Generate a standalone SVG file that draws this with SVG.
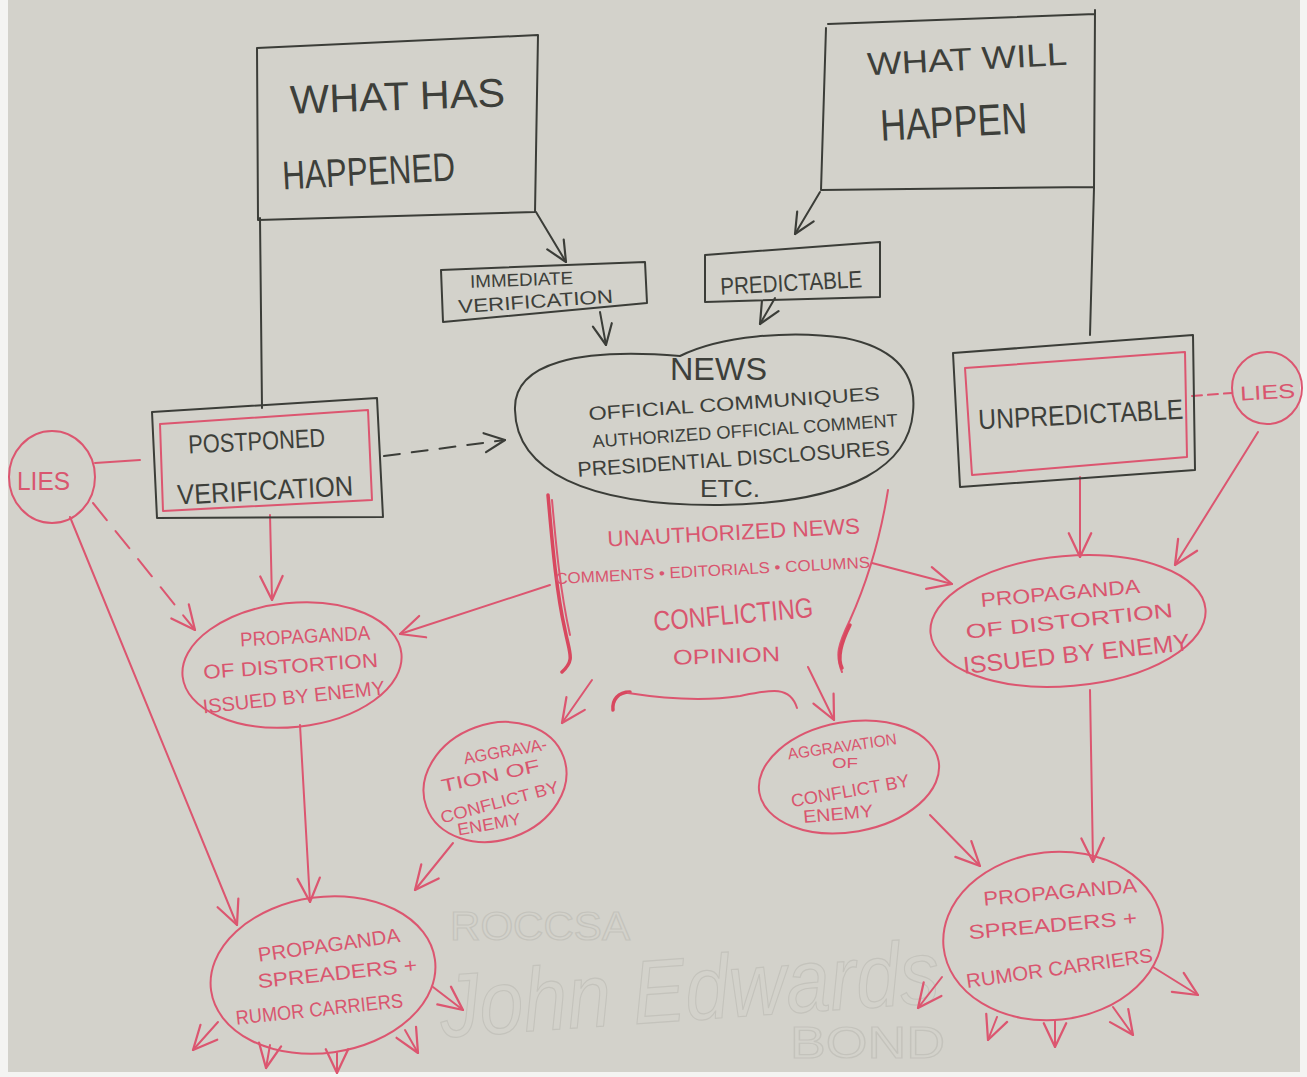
<svg xmlns="http://www.w3.org/2000/svg" width="1307" height="1077" viewBox="0 0 1307 1077">
<defs>
<marker id="ah-k" viewBox="0 0 20 20" refX="19" refY="10" markerWidth="24" markerHeight="24" markerUnits="userSpaceOnUse" orient="auto"><path d="M2,2 L19,10 L2,18" fill="none" stroke="#3b3d38" stroke-width="1.8" stroke-linecap="round" stroke-linejoin="round"/></marker>
<marker id="ah-r" viewBox="0 0 20 20" refX="19" refY="10" markerWidth="28" markerHeight="28" markerUnits="userSpaceOnUse" orient="auto"><path d="M2,2 L19,10 L2,18" fill="none" stroke="#dc5670" stroke-width="1.6" stroke-linecap="round" stroke-linejoin="round"/></marker>
</defs>
<style>
.k{fill:none;stroke:#3b3d38;stroke-width:2;stroke-linecap:round;stroke-linejoin:round}
.r{fill:none;stroke:#dc5670;stroke-width:2;stroke-linecap:round;stroke-linejoin:round}
.rt{fill:none;stroke:#d8485f;stroke-width:3.5;stroke-linecap:round;stroke-linejoin:round}
.tk{font-family:"Liberation Sans","DejaVu Sans",sans-serif;fill:#3d3f3a}
.tr{font-family:"Liberation Sans","DejaVu Sans",sans-serif;fill:#d9566f}
.wm{font-family:"Liberation Sans",sans-serif;fill:none;stroke:#c4c3bc;stroke-width:1.2}
.ak{marker-end:url(#ah-k)}
.ar{marker-end:url(#ah-r)}
</style>
<rect x="0" y="0" width="1307" height="1077" fill="#f4f4f2"/>
<rect x="8" y="0" width="1292" height="1072" fill="#d3d2cb"/>

<g id="watermark">
<text class="wm" x="450" y="940" font-size="40" textLength="180" lengthAdjust="spacingAndGlyphs">ROCCSA</text>
<text class="wm" x="440" y="1020" font-size="90" font-family="'DejaVu Serif',serif" font-style="italic" textLength="500" lengthAdjust="spacingAndGlyphs" transform="rotate(-4 690 1000)">John Edwards</text>
<text class="wm" x="790" y="1058" font-size="44" textLength="155" lengthAdjust="spacingAndGlyphs">BOND</text>
</g>

<g id="connectors">
<path class="k" d="M260,218 L262,408"/>
<path class="k" d="M1094,188 L1090,335"/>
<path class="k ak" d="M536,212 L566,262"/>
<path class="k ak" d="M600,312 L606,345"/>
<path class="k ak" d="M820,192 L795,234"/>
<path class="k ak" d="M775,298 L760,324"/>
<path class="k ak" d="M384,456 L505,440" stroke-dasharray="16 12"/>
<path class="r" d="M95,463 L140,460"/>
<path class="r" d="M1192,396 L1232,393" stroke-dasharray="10 6"/>
<path class="r ar" d="M70,517 L237,925"/>
<path class="r ar" d="M93,503 L195,630" stroke-dasharray="22 14"/>
<path class="r ar" d="M1258,432 L1175,565"/>
<path class="r ar" d="M270,515 L272,600"/>
<path class="r ar" d="M550,585 L400,634"/>
<path class="r ar" d="M872,563 L952,584"/>
<path class="r ar" d="M1080,477 L1080,557"/>
<path class="r ar" d="M592,680 L562,723"/>
<path class="r ar" d="M808,667 L834,720"/>
<path class="r ar" d="M300,725 L310,902"/>
<path class="r ar" d="M453,843 L415,890"/>
<path class="r ar" d="M1090,690 L1093,862"/>
<path class="r ar" d="M930,815 L980,866"/>
<path class="r ar" d="M218,1022 L193,1050"/>
<path class="r ar" d="M270,1045 L266,1068"/>
<path class="r ar" d="M337,1053 L337,1073"/>
<path class="r ar" d="M405,1030 L418,1053"/>
<path class="r ar" d="M433,987 L463,1010"/>
<path class="r ar" d="M942,977 L918,1008"/>
<path class="r ar" d="M997,1017 L988,1040"/>
<path class="r ar" d="M1055,1020 L1055,1047"/>
<path class="r ar" d="M1113,1007 L1133,1035"/>
<path class="r ar" d="M1153,967 L1198,995"/>
</g>

<g id="what-has-happened">
<path class="k" d="M257,48 L538,35 L535,212 L258,220 Z"/>
<text class="tk" x="290" y="110" font-size="40" textLength="215" lengthAdjust="spacingAndGlyphs" transform="rotate(-2 397 95)">WHAT HAS</text>
<text class="tk" x="282" y="185" font-size="40" textLength="173" lengthAdjust="spacingAndGlyphs" transform="rotate(-3 368 170)">HAPPENED</text>
</g>

<g id="what-will-happen">
<path class="k" d="M828,24 L1095,14 M826,28 L821,190 L1094,187 M1095,10 L1094,188"/>
<text class="tk" x="867" y="70" font-size="32" textLength="200" lengthAdjust="spacingAndGlyphs" transform="rotate(-3 967 58)">WHAT WILL</text>
<text class="tk" x="880" y="137" font-size="44" textLength="147" lengthAdjust="spacingAndGlyphs" transform="rotate(-3 953 120)">HAPPEN</text>
</g>

<g id="immediate-verification">
<path class="k" d="M441,270 L645,262 L647,303 L443,322 Z"/>
<text class="tk" x="470" y="286" font-size="18" textLength="103" lengthAdjust="spacingAndGlyphs" transform="rotate(-2 520 278)">IMMEDIATE</text>
<text class="tk" x="458" y="308" font-size="19" textLength="155" lengthAdjust="spacingAndGlyphs" transform="rotate(-4 535 300)">VERIFICATION</text>
</g>

<g id="predictable">
<path class="k" d="M705,255 L880,242 L880,297 L705,302 Z"/>
<text class="tk" x="720" y="291" font-size="24" textLength="142" lengthAdjust="spacingAndGlyphs" transform="rotate(-3 790 280)">PREDICTABLE</text>
</g>

<g id="news">
<path class="k" d="M515,410 C513,362 580,348 680,356 C720,336 790,330 845,338 C905,350 916,382 913,412 C909,462 858,503 720,505 C585,506 516,470 515,410 Z"/>
<text class="tk" x="670" y="380" font-size="32" textLength="97" lengthAdjust="spacingAndGlyphs">NEWS</text>
<text class="tk" x="588" y="410" font-size="19" textLength="292" lengthAdjust="spacingAndGlyphs" transform="rotate(-4 734 402)">OFFICIAL COMMUNIQUES</text>
<text class="tk" x="592" y="437" font-size="18" textLength="306" lengthAdjust="spacingAndGlyphs" transform="rotate(-4 745 430)">AUTHORIZED OFFICIAL COMMENT</text>
<text class="tk" x="577" y="466" font-size="21" textLength="313" lengthAdjust="spacingAndGlyphs" transform="rotate(-4 733 458)">PRESIDENTIAL DISCLOSURES</text>
<text class="tk" x="700" y="497" font-size="24" textLength="60" lengthAdjust="spacingAndGlyphs">ETC.</text>
</g>

<g id="unauthorized-news">
<path class="rt" d="M548,495 C552,540 556,590 565,630 C570,655 575,660 562,672"/>
<path class="r" d="M552,500 C556,545 560,590 570,635"/>
<path class="r" d="M888,490 C880,540 868,580 850,620 C838,645 835,655 842,672"/>
<path class="rt" d="M850,625 C840,645 838,660 842,668"/>
<path class="rt" d="M613,710 C612,700 618,692 630,692"/>
<path class="r" d="M628,693 C660,698 700,702 740,696 C770,690 790,685 797,708"/>
<text class="tr" x="607" y="540" font-size="22" textLength="253" lengthAdjust="spacingAndGlyphs" transform="rotate(-3 733 530)">UNAUTHORIZED NEWS</text>
<text class="tr" x="555" y="576" font-size="16" textLength="315" lengthAdjust="spacingAndGlyphs" transform="rotate(-3 712 568)">COMMENTS • EDITORIALS • COLUMNS</text>
<text class="tr" x="653" y="624" font-size="28" textLength="160" lengthAdjust="spacingAndGlyphs" transform="rotate(-5 733 612)">CONFLICTING</text>
<text class="tr" x="673" y="663" font-size="21" textLength="107" lengthAdjust="spacingAndGlyphs" transform="rotate(-2 726 655)">OPINION</text>
</g>

<g id="postponed-verification">
<path class="k" d="M152,412 L377,398 L383,517 L157,518 Z"/>
<path class="r" d="M160,424 L368,410 L372,500 L163,511 Z"/>
<text class="tk" x="188" y="450" font-size="26" textLength="137" lengthAdjust="spacingAndGlyphs" transform="rotate(-3 256 438)">POSTPONED</text>
<text class="tk" x="177" y="500" font-size="28" textLength="176" lengthAdjust="spacingAndGlyphs" transform="rotate(-3 265 488)">VERIFICATION</text>
</g>

<g id="unpredictable">
<path class="k" d="M953,353 L1193,335 L1195,470 L960,487 Z"/>
<path class="r" d="M965,368 L1185,352 L1187,457 L972,475 Z"/>
<text class="tk" x="978" y="424" font-size="28" textLength="205" lengthAdjust="spacingAndGlyphs" transform="rotate(-3 1080 410)">UNPREDICTABLE</text>
</g>

<g id="lies-left">
<ellipse class="r" cx="52" cy="477" rx="43" ry="46"/>
<text class="tr" x="17" y="490" font-size="26" textLength="53" lengthAdjust="spacingAndGlyphs">LIES</text>
</g>

<g id="lies-right">
<ellipse class="r" cx="1267" cy="388" rx="35" ry="36"/>
<text class="tr" x="1240" y="399" font-size="20" textLength="55" lengthAdjust="spacingAndGlyphs" transform="rotate(-3 1267 390)">LIES</text>
</g>

<g id="propaganda-left">
<ellipse class="r" cx="292" cy="665" rx="110" ry="62" transform="rotate(-6 292 665)"/>
<text class="tr" x="240" y="643" font-size="20" textLength="130" lengthAdjust="spacingAndGlyphs" transform="rotate(-3 305 635)">PROPAGANDA</text>
<text class="tr" x="203" y="673" font-size="20" textLength="175" lengthAdjust="spacingAndGlyphs" transform="rotate(-4 290 664)">OF DISTORTION</text>
<text class="tr" x="202" y="704" font-size="20" textLength="183" lengthAdjust="spacingAndGlyphs" transform="rotate(-6 293 695)">ISSUED BY ENEMY</text>
</g>

<g id="propaganda-right">
<ellipse class="r" cx="1068" cy="621" rx="138" ry="65" transform="rotate(-5 1068 621)"/>
<text class="tr" x="980" y="600" font-size="20" textLength="160" lengthAdjust="spacingAndGlyphs" transform="rotate(-5 1060 590)">PROPAGANDA</text>
<text class="tr" x="965" y="628" font-size="20" textLength="208" lengthAdjust="spacingAndGlyphs" transform="rotate(-6 1069 618)">OF DISTORTION</text>
<text class="tr" x="962" y="662" font-size="24" textLength="228" lengthAdjust="spacingAndGlyphs" transform="rotate(-6 1076 650)">ISSUED BY ENEMY</text>
</g>

<g id="aggravation-left">
<ellipse class="r" cx="495" cy="782" rx="73" ry="58" transform="rotate(-20 495 782)"/>
<text class="tr" x="463" y="757" font-size="17" textLength="84" lengthAdjust="spacingAndGlyphs" transform="rotate(-10 505 750)">AGGRAVA-</text>
<text class="tr" x="440" y="782" font-size="18" textLength="100" lengthAdjust="spacingAndGlyphs" transform="rotate(-12 490 774)">TION OF</text>
<text class="tr" x="438" y="808" font-size="17" textLength="122" lengthAdjust="spacingAndGlyphs" transform="rotate(-15 499 800)">CONFLICT BY</text>
<text class="tr" x="457" y="830" font-size="17" textLength="64" lengthAdjust="spacingAndGlyphs" transform="rotate(-10 489 824)">ENEMY</text>
</g>

<g id="aggravation-right">
<ellipse class="r" cx="849" cy="777" rx="91" ry="55" transform="rotate(-10 849 777)"/>
<text class="tr" x="787" y="752" font-size="16" textLength="110" lengthAdjust="spacingAndGlyphs" transform="rotate(-8 842 745)">AGGRAVATION</text>
<text class="tr" x="832" y="768" font-size="14" textLength="26" lengthAdjust="spacingAndGlyphs">OF</text>
<text class="tr" x="790" y="797" font-size="18" textLength="120" lengthAdjust="spacingAndGlyphs" transform="rotate(-10 850 790)">CONFLICT BY</text>
<text class="tr" x="803" y="820" font-size="18" textLength="70" lengthAdjust="spacingAndGlyphs" transform="rotate(-5 838 813)">ENEMY</text>
</g>

<g id="spreaders-left">
<ellipse class="r" cx="323" cy="975" rx="113" ry="78" transform="rotate(-8 323 975)"/>
<text class="tr" x="257" y="952" font-size="20" textLength="143" lengthAdjust="spacingAndGlyphs" transform="rotate(-8 328 942)">PROPAGANDA</text>
<text class="tr" x="257" y="980" font-size="20" textLength="160" lengthAdjust="spacingAndGlyphs" transform="rotate(-6 337 970)">SPREADERS +</text>
<text class="tr" x="235" y="1016" font-size="20" textLength="168" lengthAdjust="spacingAndGlyphs" transform="rotate(-6 319 1006)">RUMOR CARRIERS</text>
</g>

<g id="spreaders-right">
<ellipse class="r" cx="1053" cy="936" rx="110" ry="84" transform="rotate(-6 1053 936)"/>
<text class="tr" x="983" y="899" font-size="20" textLength="154" lengthAdjust="spacingAndGlyphs" transform="rotate(-5 1060 890)">PROPAGANDA</text>
<text class="tr" x="968" y="932" font-size="20" textLength="169" lengthAdjust="spacingAndGlyphs" transform="rotate(-5 1052 922)">SPREADERS +</text>
<text class="tr" x="965" y="975" font-size="20" textLength="188" lengthAdjust="spacingAndGlyphs" transform="rotate(-8 1059 965)">RUMOR CARRIERS</text>
</g>
</svg>
